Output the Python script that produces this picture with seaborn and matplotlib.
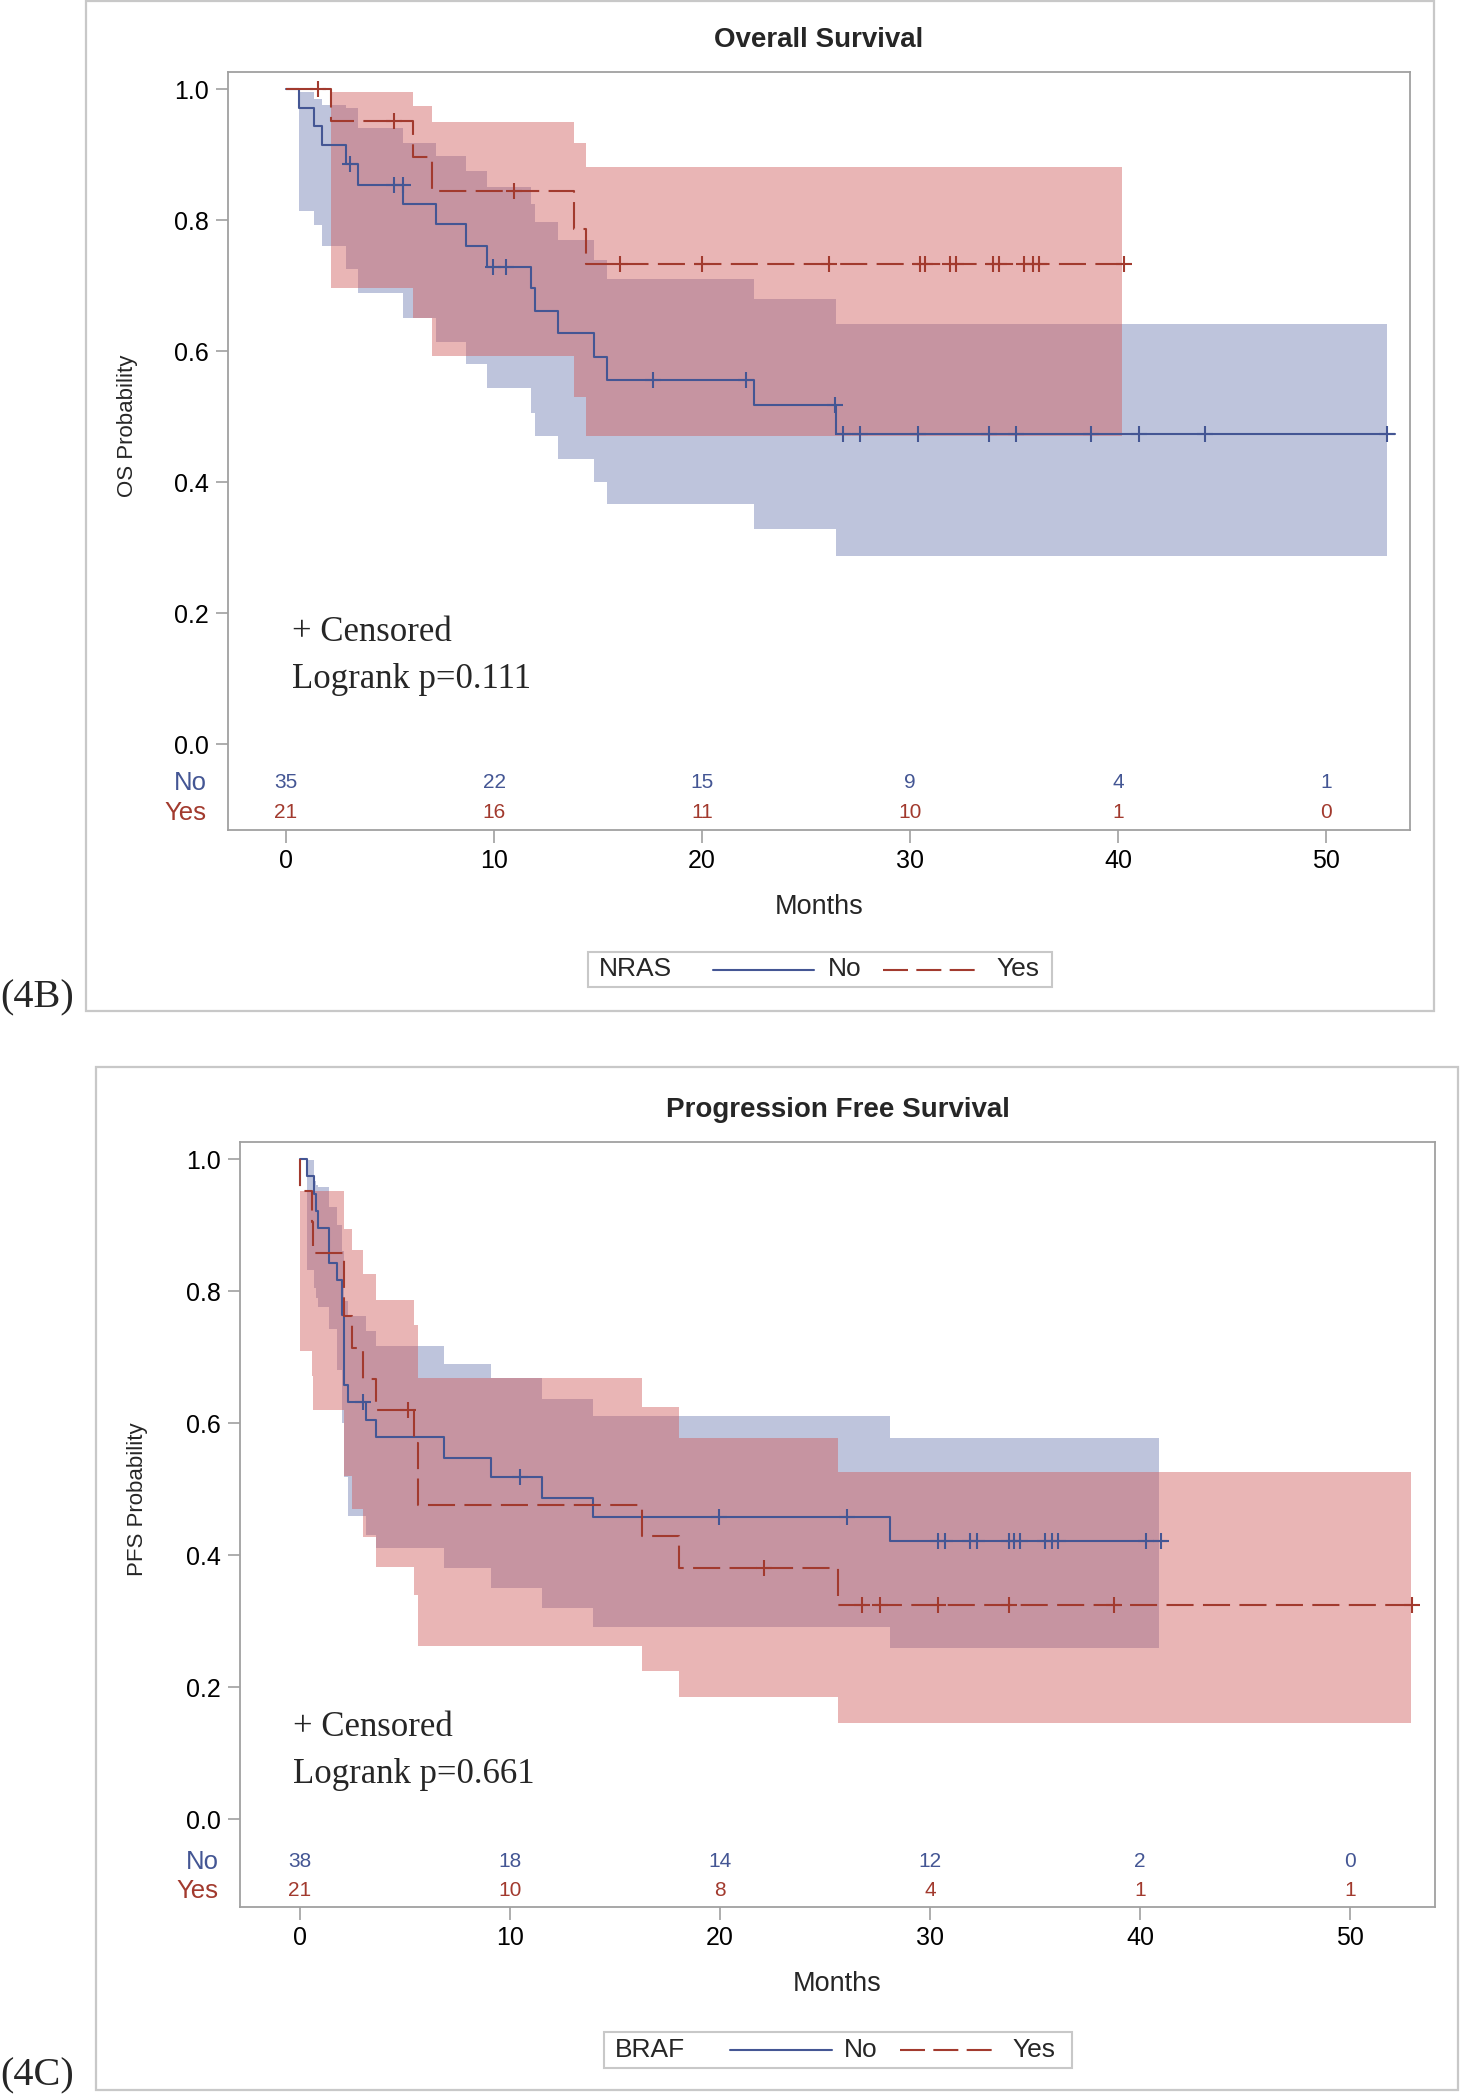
import matplotlib
matplotlib.use("Agg")
import matplotlib.pyplot as plt
from matplotlib.lines import Line2D
from matplotlib.patches import Rectangle
import numpy as np
import seaborn as sns

W, H = 1461, 2100
BLUE, RED = "#445694", "#A23A2E"
BLUE_FILL, RED_FILL = "#6F7EB3", "#D05B5B"
GRAY = "#A0A0A0"
DASH = (0, (13, 4.5))

# ---------------- 4B: Overall survival by NRAS ----------------
os_no_t = [0.63, 1.35, 1.75, 2.88, 3.45, 5.62, 7.2, 8.64, 9.65, 11.8, 11.95, 13.08, 14.83, 15.41, 22.5, 26.44]
os_no_s = [0.971, 0.943, 0.914, 0.886, 0.854, 0.824, 0.794, 0.761, 0.729, 0.696, 0.661, 0.627, 0.591, 0.556, 0.517, 0.474]
os_no_lcl = [0.814, 0.792, 0.760, 0.725, 0.689, 0.651, 0.614, 0.580, 0.544, 0.506, 0.470, 0.435, 0.400, 0.367, 0.328, 0.287]
os_no_ucl = [0.996, 0.985, 0.975, 0.971, 0.940, 0.917, 0.897, 0.875, 0.851, 0.825, 0.797, 0.769, 0.739, 0.710, 0.679, 0.641]
os_no_cens = [3.06, 5.19, 5.6, 9.95, 10.56, 17.65, 22.1, 26.4, 26.8, 27.6, 30.4, 33.8, 35.1, 38.7, 41.0, 44.2, 52.95]
os_no_end = 53.3
os_no_band_end = 52.95

os_yes_t = [2.16, 6.1, 7.03, 13.83, 14.4]
os_yes_s = [0.951, 0.896, 0.845, 0.786, 0.733]
os_yes_lcl = [0.696, 0.651, 0.593, 0.530, 0.470]
os_yes_ucl = [0.995, 0.974, 0.949, 0.917, 0.881]
os_yes_cens = [1.54, 5.19, 10.96, 16.05, 20.0, 26.1, 30.5, 30.7, 31.9, 32.2, 34.0, 34.3, 35.5, 35.9, 36.2, 40.3]
os_yes_end = 40.3
os_yes_band_end = 40.2

os_risk_t = [0, 10, 20, 30, 40, 50]
os_risk_no = [35, 22, 15, 9, 4, 1]
os_risk_yes = [21, 16, 11, 10, 1, 0]

# ---------------- 4C: Progression free survival by BRAF ----------------
pfs_no_t = [0.35, 0.65, 0.78, 0.87, 1.37, 1.78, 2.0, 2.1, 2.27, 3.16, 3.6, 6.87, 9.1, 11.52, 13.97, 28.08]
pfs_no_s = [0.974, 0.947, 0.921, 0.895, 0.842, 0.816, 0.763, 0.658, 0.632, 0.605, 0.579, 0.547, 0.518, 0.486, 0.457, 0.422]
pfs_no_lcl = [0.832, 0.805, 0.790, 0.776, 0.743, 0.681, 0.600, 0.518, 0.459, 0.430, 0.410, 0.380, 0.350, 0.320, 0.291, 0.259]
pfs_no_ucl = [0.998, 0.966, 0.960, 0.958, 0.927, 0.900, 0.860, 0.785, 0.762, 0.739, 0.717, 0.690, 0.668, 0.637, 0.611, 0.578]
pfs_no_cens = [3.0, 10.5, 19.95, 26.06, 30.4, 30.7, 31.9, 32.25, 33.76, 34.0, 34.3, 35.5, 35.8, 36.1, 40.27, 41.0]
pfs_no_end = 41.3
pfs_no_band_end = 40.9

pfs_yes_t = [0.02, 0.56, 0.63, 2.1, 2.49, 3.0, 3.6, 5.44, 5.63, 16.29, 18.04, 25.64]
pfs_yes_s = [0.952, 0.905, 0.857, 0.762, 0.714, 0.667, 0.619, 0.569, 0.476, 0.429, 0.380, 0.324]
pfs_yes_lcl = [0.709, 0.671, 0.620, 0.520, 0.470, 0.428, 0.382, 0.339, 0.262, 0.225, 0.185, 0.145]
pfs_yes_ucl = [0.952, 0.952, 0.952, 0.894, 0.862, 0.826, 0.787, 0.749, 0.668, 0.624, 0.577, 0.526]
pfs_yes_cens = [5.16, 22.1, 26.77, 27.6, 30.4, 33.76, 38.74, 52.97]
pfs_yes_end = 53.0
pfs_yes_band_end = 52.9

pfs_risk_t = [0, 10, 20, 30, 40, 50]
pfs_risk_no = [38, 18, 14, 12, 2, 0]
pfs_risk_yes = [21, 10, 8, 4, 1, 1]

sns.set_theme(style="white")
plt.rcParams["font.family"] = ["Liberation Sans", "DejaVu Sans"]
SERIF = ["Liberation Serif", "DejaVu Serif"]


def px(x, y):
    return x / W, 1 - y / H


def draw_group(ax, ev_t, ev_s, lcl, ucl, cens, end, band_end, line_c, fill_c, ls):
    bx = list(ev_t) + [band_end]
    ax.fill_between(bx, list(lcl) + [lcl[-1]], list(ucl) + [ucl[-1]], step="post",
                    color=fill_c, alpha=0.45, linewidth=0, zorder=1)
    x = [0.0] + list(ev_t) + [end]
    y = [1.0] + list(ev_s) + [ev_s[-1]]
    sns.lineplot(x=x, y=y, ax=ax, drawstyle="steps-post", estimator=None, sort=False,
                 color=line_c, linewidth=1.5, linestyle=ls, zorder=3)
    idx = np.searchsorted(ev_t, cens, side="left")
    cy = np.r_[1.0, ev_s][idx]
    sns.scatterplot(x=cens, y=cy, ax=ax, marker="+", s=120, linewidth=1.5,
                    color=line_c, zorder=4)


def km_panel(ax, title, ylabel, groups, risk_t, risk_no, risk_yes, xlim, ylim, risk_y, note, pval):
    for g in groups:
        draw_group(ax, *g)
    ax.set_xlim(*xlim)
    ax.set_ylim(*ylim)
    ax.set_xticks(risk_t)
    ax.set_yticks([0, 0.2, 0.4, 0.6, 0.8, 1.0])
    ax.set_yticklabels([f"{v:.1f}" for v in [0, 0.2, 0.4, 0.6, 0.8, 1.0]])
    ax.tick_params(axis="both", direction="out", length=9, width=1.2, color=GRAY,
                   labelsize=18, pad=5, bottom=True, left=True, labelcolor="black")
    for sp in ax.spines.values():
        sp.set_color(GRAY)
        sp.set_linewidth(1.3)
    ax.set_xlabel("")
    ax.set_ylabel("")
    h = ax.get_position().height * H
    ax.text(0.5, 1 + 32 / h, title, transform=ax.transAxes, ha="center", va="center",
            fontsize=20, fontweight="bold")
    ax.text(0.5, -77 / h, "Months", transform=ax.transAxes, ha="center", va="center", fontsize=19.5)
    ax.text(-0.0854, 0.533, ylabel, transform=ax.transAxes, rotation=90,
            ha="center", va="center", fontsize=16)
    tr = ax.get_yaxis_transform()
    ax.text(-0.018, risk_y[0], "No", transform=tr, ha="right", va="center", color=BLUE, fontsize=18.5)
    ax.text(-0.018, risk_y[1], "Yes", transform=tr, ha="right", va="center", color=RED, fontsize=18.5)
    for t, a, b in zip(risk_t, risk_no, risk_yes):
        ax.text(t, risk_y[0], str(a), ha="center", va="center", color=BLUE, fontsize=15)
        ax.text(t, risk_y[1], str(b), ha="center", va="center", color=RED, fontsize=15)
    ax.text(note[0], note[1], "+ Censored", ha="left", va="center", fontsize=25, family=SERIF)
    ax.text(note[0], note[2], f"Logrank p={pval}", ha="left", va="center", fontsize=25, family=SERIF)


def draw_legend(fig, box, name, xs):
    x0, y0, x1, y1 = box
    fig.add_artist(Rectangle(px(x0, y1), (x1 - x0) / W, (y1 - y0) / H, transform=fig.transFigure,
                             fill=False, edgecolor="#C8C8C8", linewidth=1.5))
    yc = 1 - (y0 + y1) / 2 / H
    fig.text(xs[0] / W, yc, name, ha="left", va="center", fontsize=19)
    fig.add_artist(Line2D([xs[1] / W, xs[2] / W], [yc, yc], transform=fig.transFigure,
                          color=BLUE, linewidth=1.5))
    fig.text(xs[3] / W, yc, "No", ha="left", va="center", fontsize=19)
    fig.add_artist(Line2D([xs[4] / W, xs[5] / W], [yc, yc], transform=fig.transFigure,
                          color=RED, linewidth=1.5, linestyle=(0, (12, 4))))
    fig.text(xs[6] / W, yc, "Yes", ha="left", va="center", fontsize=19)


fig = plt.figure(figsize=(W / 100, H / 100), dpi=100)

# outer frames of the two panels
fig.add_artist(Rectangle(px(86, 1011), 1348 / W, 1010 / H, transform=fig.transFigure,
                         fill=False, edgecolor="#C8C8C8", linewidth=1.6))
fig.add_artist(Rectangle(px(96, 2090), 1362 / W, 1023 / H, transform=fig.transFigure,
                         fill=False, edgecolor="#C8C8C8", linewidth=1.6))

ax1 = fig.add_axes([228 / W, 1 - 830 / H, 1182 / W, 758 / H])
km_panel(ax1, "Overall Survival", "OS Probability",
         [(os_no_t, os_no_s, os_no_lcl, os_no_ucl, os_no_cens, os_no_end, os_no_band_end, BLUE, BLUE_FILL, "-"),
          (os_yes_t, os_yes_s, os_yes_lcl, os_yes_ucl, os_yes_cens, os_yes_end, os_yes_band_end, RED, RED_FILL, DASH)],
         os_risk_t, os_risk_no, os_risk_yes, (-2.79, 54.04), (-0.1313, 1.026),
         (-0.0595, -0.105), (0.3, 0.171, 0.099), "0.111")

ax2 = fig.add_axes([240 / W, 1 - 1907 / H, 1195 / W, 765 / H])
km_panel(ax2, "Progression Free Survival", "PFS Probability",
         [(pfs_no_t, pfs_no_s, pfs_no_lcl, pfs_no_ucl, pfs_no_cens, pfs_no_end, pfs_no_band_end, BLUE, BLUE_FILL, "-"),
          (pfs_yes_t, pfs_yes_s, pfs_yes_lcl, pfs_yes_ucl, pfs_yes_cens, pfs_yes_end, pfs_yes_band_end, RED, RED_FILL, DASH)],
         pfs_risk_t, pfs_risk_no, pfs_risk_yes, (-2.857, 54.05), (-0.1333, 1.0258),
         (-0.065, -0.109), (-0.33, 0.138, 0.068), "0.661")

draw_legend(fig, (588, 952, 1052, 987), "NRAS", (599, 713, 814, 828, 883, 976, 996))
draw_legend(fig, (604, 2032, 1072, 2068), "BRAF", (615, 730, 832, 844, 900, 995, 1012))

fig.text(0, 1 - 998 / H, "(4B)", ha="left", va="center", fontsize=29, family=SERIF)
fig.text(0, 1 - 2076 / H, "(4C)", ha="left", va="center", fontsize=29, family=SERIF)

fig.savefig("out.png", dpi=100)
